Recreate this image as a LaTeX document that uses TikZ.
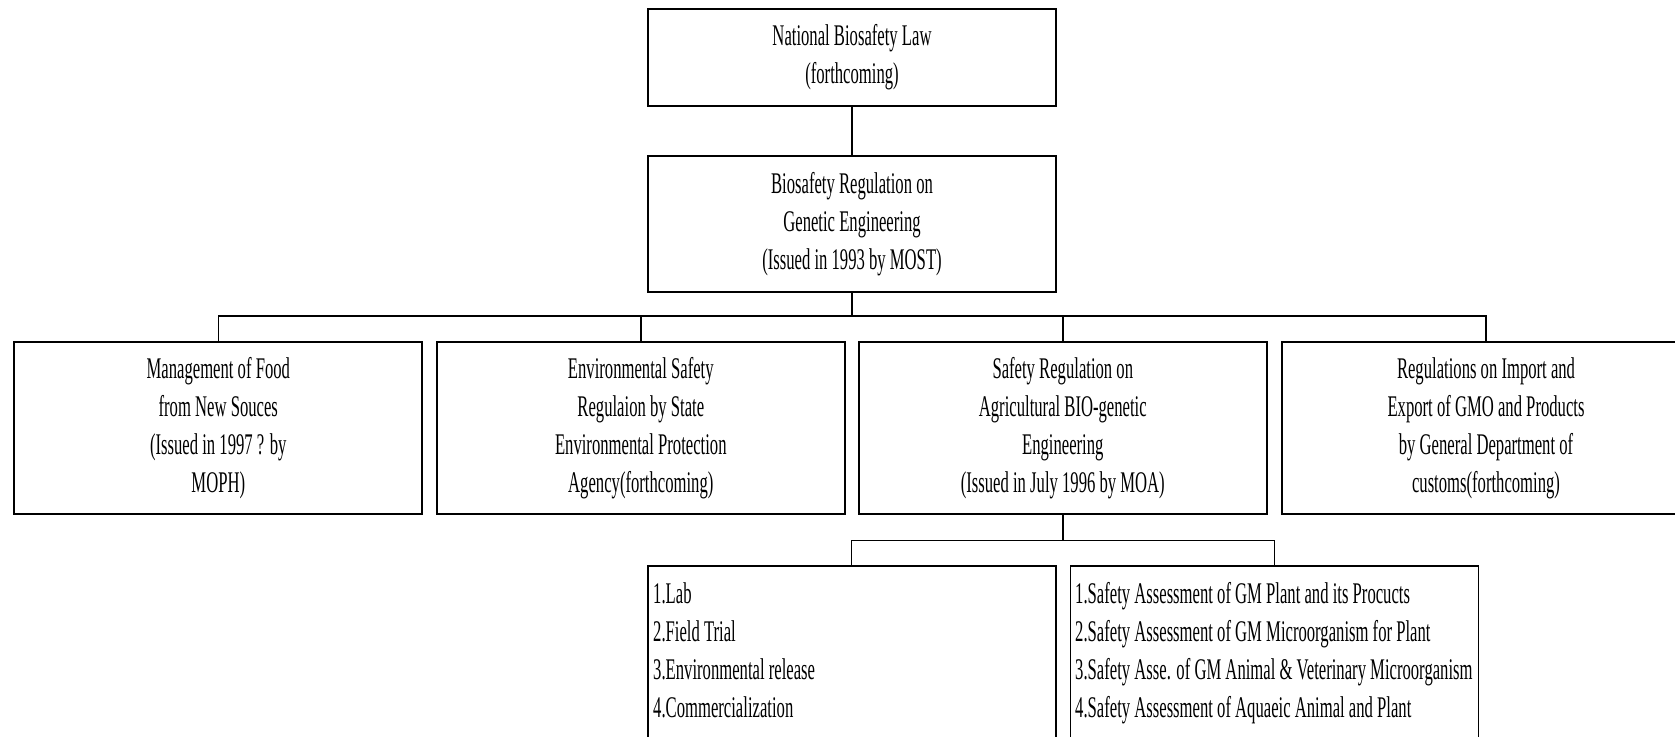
\documentclass[tikz,border=0pt]{standalone}
\usepackage{fontspec}
\setmainfont{Liberation Serif}[FakeStretch=0.555]
\begin{document}
\begin{tikzpicture}[x=1pt,y=-1pt,
  box/.style={draw, line width=1.8pt, minimum width=408pt, align=center, inner sep=0pt, font=\fontsize{30}{38}\selectfont},
  txt/.style={align=left, inner sep=0pt, font=\fontsize{30}{38}\selectfont},
  conn/.style={line width=1.4pt}]
\clip (0,0) rectangle (1675,736);
\fill[white] (0,0) rectangle (1675,736);
\node[box, minimum height=97pt] (law) at (852,57.5) {National Biosafety Law\\(forthcoming)};
\node[box, minimum height=136pt] (reg) at (852,223.7) {Biosafety Regulation on\\Genetic Engineering\\(Issued in 1993 by MOST)};
\node[box, minimum height=172.6pt] (food) at (218.3,428) {Management of Food\\from New Souces\\(Issued in 1997 ? by\\MOPH)};
\node[box, minimum height=172.6pt] (env) at (640.8,428) {Environmental Safety\\Regulaion by State\\Environmental Protection\\Agency(forthcoming)};
\node[box, minimum height=172.6pt] (agri) at (1062.8,428) {Safety Regulation on\\Agricultural BIO-genetic\\Engineering\\(Issued in July 1996 by MOA)};
\node[box, minimum height=172.6pt] (imp) at (1486,428) {Regulations on Import and\\Export of GMO and Products\\by General Department of\\customs(forthcoming)};
\node[box, minimum height=220pt, anchor=north] (lab) at (851.7,565) {};
\node[box, minimum height=220pt, anchor=north] (assess) at (1274.5,565) {};
\node[txt, anchor=north west] (labtxt) at (653,582) {1.Lab\\2.Field Trial\\3.Environmental release\\4.Commercialization};
\node[txt, anchor=north west] (assesstxt) at (1075,582) {1.Safety Assessment of GM Plant and its Procucts\\2.Safety Assessment of GM Microorganism for Plant\\3.Safety Asse. of GM Animal \& Veterinary Microorganism\\4.Safety Assessment of Aquaeic Animal and Plant};
\coordinate (bus1) at (852,316);
\coordinate (bus2) at (1063,540.7);
\draw[conn] (law) -- (reg);
\draw[conn] (reg.south) -- (reg.south |- bus1);
\draw[conn] (food.north) -- (food.north |- bus1) -- (imp.north |- bus1) -- (imp.north);
\draw[conn] (env.north) -- (env.north |- bus1);
\draw[conn] (agri.north) -- (agri.north |- bus1);
\draw[conn] (agri.south) -- (agri.south |- bus2);
\draw[conn] (lab.north) -- (lab.north |- bus2) -- (assess.north |- bus2) -- (assess.north);
\end{tikzpicture}
\end{document}
